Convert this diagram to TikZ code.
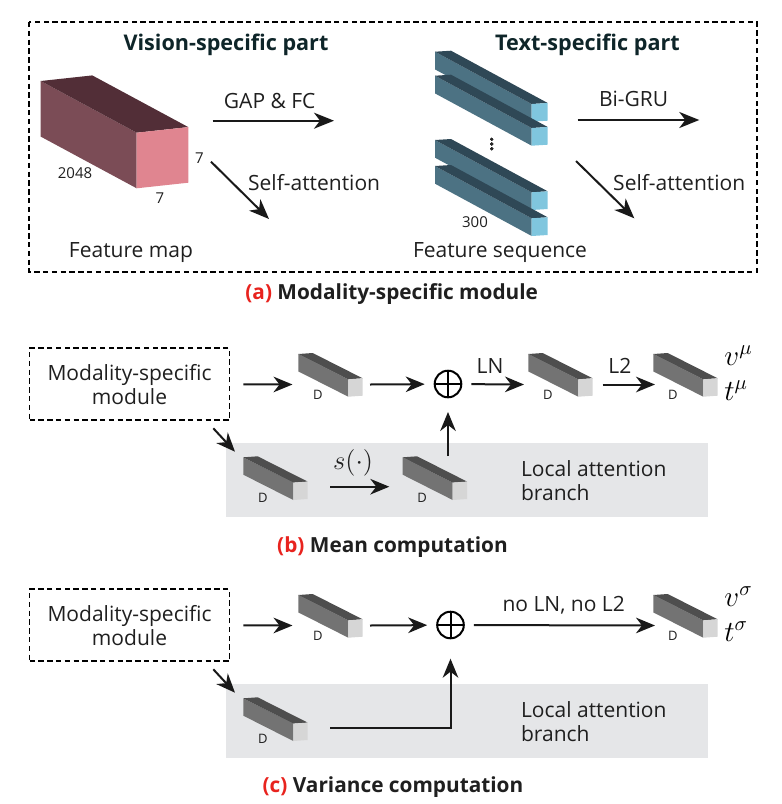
\RequirePackage{fix-cm}
\documentclass[tikz,border=0pt]{standalone}
\usepackage[no-math]{fontspec}
\setmainfont{Open Sans}
\usepackage{amsmath}
\usetikzlibrary{arrows.meta}

\definecolor{fmtop}{HTML}{522E37}
\definecolor{fmside}{HTML}{7B4C56}
\definecolor{fmfront}{HTML}{E08590}
\definecolor{txtop}{HTML}{2F4856}
\definecolor{txside}{HTML}{4C7283}
\definecolor{txfront}{HTML}{80C6DE}
\definecolor{gytop}{HTML}{4E4E4E}
\definecolor{gyside}{HTML}{737373}
\definecolor{gyfront}{HTML}{D6D6D6}
\definecolor{branchbg}{HTML}{E5E6E8}
\definecolor{capred}{HTML}{E8231E}
\definecolor{titlecol}{HTML}{0E2529}

% box: x, y (front bottom left), width, height, rise, depth dx, depth dy, colour set
\newcommand{\drawbar}[8]{%
  \fill[#8side] (#1,#2) -- ++(0,-#4) -- ++(#6,#7) -- ++(0,#4) -- cycle;
  \fill[#8top] (#1,#2) ++(0,-#4) -- ++(#3,-#5) -- ++(#6,#7) -- ++(-#3,#5) -- cycle;
  \fill[#8front] (#1,#2) -- ++(#3,-#5) -- ++(0,-#4) -- ++(-#3,#5) -- cycle;
}
\newcommand{\graybar}[3]{%
  \begin{scope}[shift={(#2,#3)}]
    \drawbar{0}{0}{14.4}{17.4}{1}{-50}{-25.3}{gy}
    \node[dim] (#1) at (-30.5,-2) {D};
  \end{scope}}

\tikzset{
  lbl/.style={font=\fontsize{10.5}{12}\selectfont, text=black!88},
  title/.style={font=\fontsize{10.8}{13}\selectfont\bfseries, text=titlecol},
  capt/.style={font=\fontsize{10.4}{13}\selectfont\bfseries, text=black!88},
  small/.style={font=\fontsize{7.5}{9}\selectfont, text=black!88},
  dim/.style={font=\fontsize{6.5}{8}\selectfont, text=black!88},
  mathlbl/.style={font=\fontsize{14.6}{17}\selectfont, inner sep=0pt, anchor=base west},
  dashfrm/.style={draw, dash pattern=on 2.7pt off 1.7pt, line width=0.95pt},
  dashbox/.style={dashfrm, minimum width=100pt, minimum height=35.8pt, align=center, lbl},
  arr/.style={-{Stealth[length=9.5pt,width=7.8pt,inset=3pt]}, line width=1pt, black!90},
  bigarr/.style={-{Stealth[length=10pt,width=8pt,inset=3pt]}, line width=1pt, black!90},
  oplus/.style={circle, draw, line width=1pt, minimum size=13.3pt, inner sep=0pt,
    path picture={\draw[line width=1pt] (path picture bounding box.north) -- (path picture bounding box.south)
      (path picture bounding box.west) -- (path picture bounding box.east);}},
}

\begin{document}
\begin{tikzpicture}[x=0.5pt,y=-0.5pt]
\useasboundingbox (0,0) rectangle (782,804);
% (a) modality-specific module
\draw[dashfrm] (29,22) rectangle (757,272);
\node[title] (vistitle) at (226,45) {Vision-specific part};
\node[title] (txttitle) at (587.5,45) {Text-specific part};
\drawbar{136.7}{188.3}{51.6}{55.6}{5.6}{-96}{-51.7}{fm}
\foreach \y in {121.7,145.7,210,236}
  \drawbar{531.7}{\y}{16}{17.7}{1}{-96.7}{-52.3}{tx}
\foreach \y in {139.3,144,148.7}
  \fill[black!85] (491.7,\y) circle (1.6);
\node[small] (lenfm) at (75,173) {2048};
\node[small] (hfm) at (199.3,158) {7};
\node[small] (wfm) at (160,198) {7};
\node[small] (lenseq) at (475,221.7) {300};
\node[lbl, anchor=base] (fmap) at (131,257) {Feature map};
\node[lbl, anchor=base] (fseq) at (500,257) {Feature sequence};
\coordinate (gapS) at (212.7,120.7);
\coordinate (gapE) at (334,120.7);
\coordinate (vsaS) at (211,161.7);
\coordinate (vsaE) at (269,219);
\coordinate (gruS) at (577.7,120);
\coordinate (gruE) at (699.3,120);
\coordinate (tsaS) at (576,161);
\coordinate (tsaE) at (634.3,218.3);
\path[bigarr,lbl]
  (gapS) edge node[pos=0.47,above=2.2pt]{GAP \& FC} (gapE)
  (vsaS) edge node[pos=0.37,anchor=west,xshift=4pt]{Self-attention} (vsaE)
  (gruS) edge node[pos=0.46,above=3pt]{Bi-GRU} (gruE)
  (tsaS) edge node[pos=0.37,anchor=west,xshift=4pt]{Self-attention} (tsaE);
\node[capt] (capa) at (391.7,294) {\textcolor{capred}{(a)} Modality-specific module};

% (b) mean computation
\node[dashbox] (msmb) at (129.5,384.2) {Modality-specific\\module};
\fill[branchbg] (226,442.7) rectangle (707.5,516.7);
\node[lbl, align=left, anchor=west] (labb) at (514,480.5) {Local attention\\branch};
\graybar{db1}{348.3}{396.7}
\graybar{dbc}{578.3}{396.7}
\graybar{dbe}{703.3}{396.7}
\graybar{dba}{293.3}{500}
\graybar{dbb}{452.7}{500}
\node[oplus] (oplusb) at (448,384) {};
\node[mathlbl] (vmu) at (724,365) {$v^{\mu}$};
\node[mathlbl] (tmu) at (724,400) {$t^{\mu}$};
\coordinate (b1in) at (292.5,384.5);
\coordinate (b1out) at (370,384.5);
\coordinate (bcin) at (524,384.5);
\coordinate (bcout) at (602.5,384.5);
\coordinate (bein) at (655,384.5);
\coordinate (bdiag) at (213.3,428.3);
\coordinate (bain) at (235,451.7);
\coordinate (baout) at (330,486.7);
\coordinate (bbin) at (389.3,486.7);
\coordinate (bbup) at (448,456);
\path[arr,lbl]
  (msmb) edge[shorten <=6.5pt] (b1in)
  (b1out) edge[shorten >=4.5pt] (oplusb)
  (oplusb) edge[shorten <=4.5pt] node[pos=0.45,above=1.5pt]{LN} (bcin)
  (bcout) edge node[pos=0.33,above=1.5pt]{L2} (bein)
  (bdiag) edge (bain)
  (baout) edge node[pos=0.39,above=1.5pt,font=\fontsize{13.3}{15}\selectfont]{$s(\cdot)$} (bbin)
  (bbup) edge[shorten >=6.85pt] (oplusb);
\node[capt] (capb) at (392.5,546.7) {\textcolor{capred}{(b)} Mean computation};

% (c) variance computation
\node[dashbox] (msmc) at (129.5,625.2) {Modality-specific\\module};
\fill[branchbg] (226,683.7) rectangle (707.5,757.7);
\node[lbl, align=left, anchor=west] (labc) at (514,721.5) {Local attention\\branch};
\graybar{dc1}{348.3}{637.7}
\graybar{dce}{703.3}{637.7}
\graybar{dca}{293.3}{741}
\node[oplus] (oplusc) at (450.5,625) {};
\node[mathlbl] (vsig) at (724,606) {$v^{\sigma}$};
\node[mathlbl] (tsig) at (724,641) {$t^{\sigma}$};
\coordinate (c1in) at (292.5,625.5);
\coordinate (c1out) at (370,625.5);
\coordinate (cein) at (655,625.5);
\coordinate (cdiag) at (213.3,669.3);
\coordinate (cain) at (235,692.7);
\coordinate (caout) at (330,728.3);
\path[arr,lbl]
  (msmc) edge[shorten <=6.5pt] (c1in)
  (c1out) edge[shorten >=4.5pt] (oplusc)
  (oplusc) edge[shorten <=4.5pt] node[pos=0.52,above=1.5pt]{no LN, no L2} (cein)
  (cdiag) edge (cain);
\draw[arr,shorten >=9.7pt] (caout) -| (oplusc);
\node[capt] (capc) at (393,787) {\textcolor{capred}{(c)} Variance computation};
\end{tikzpicture}
\end{document}
